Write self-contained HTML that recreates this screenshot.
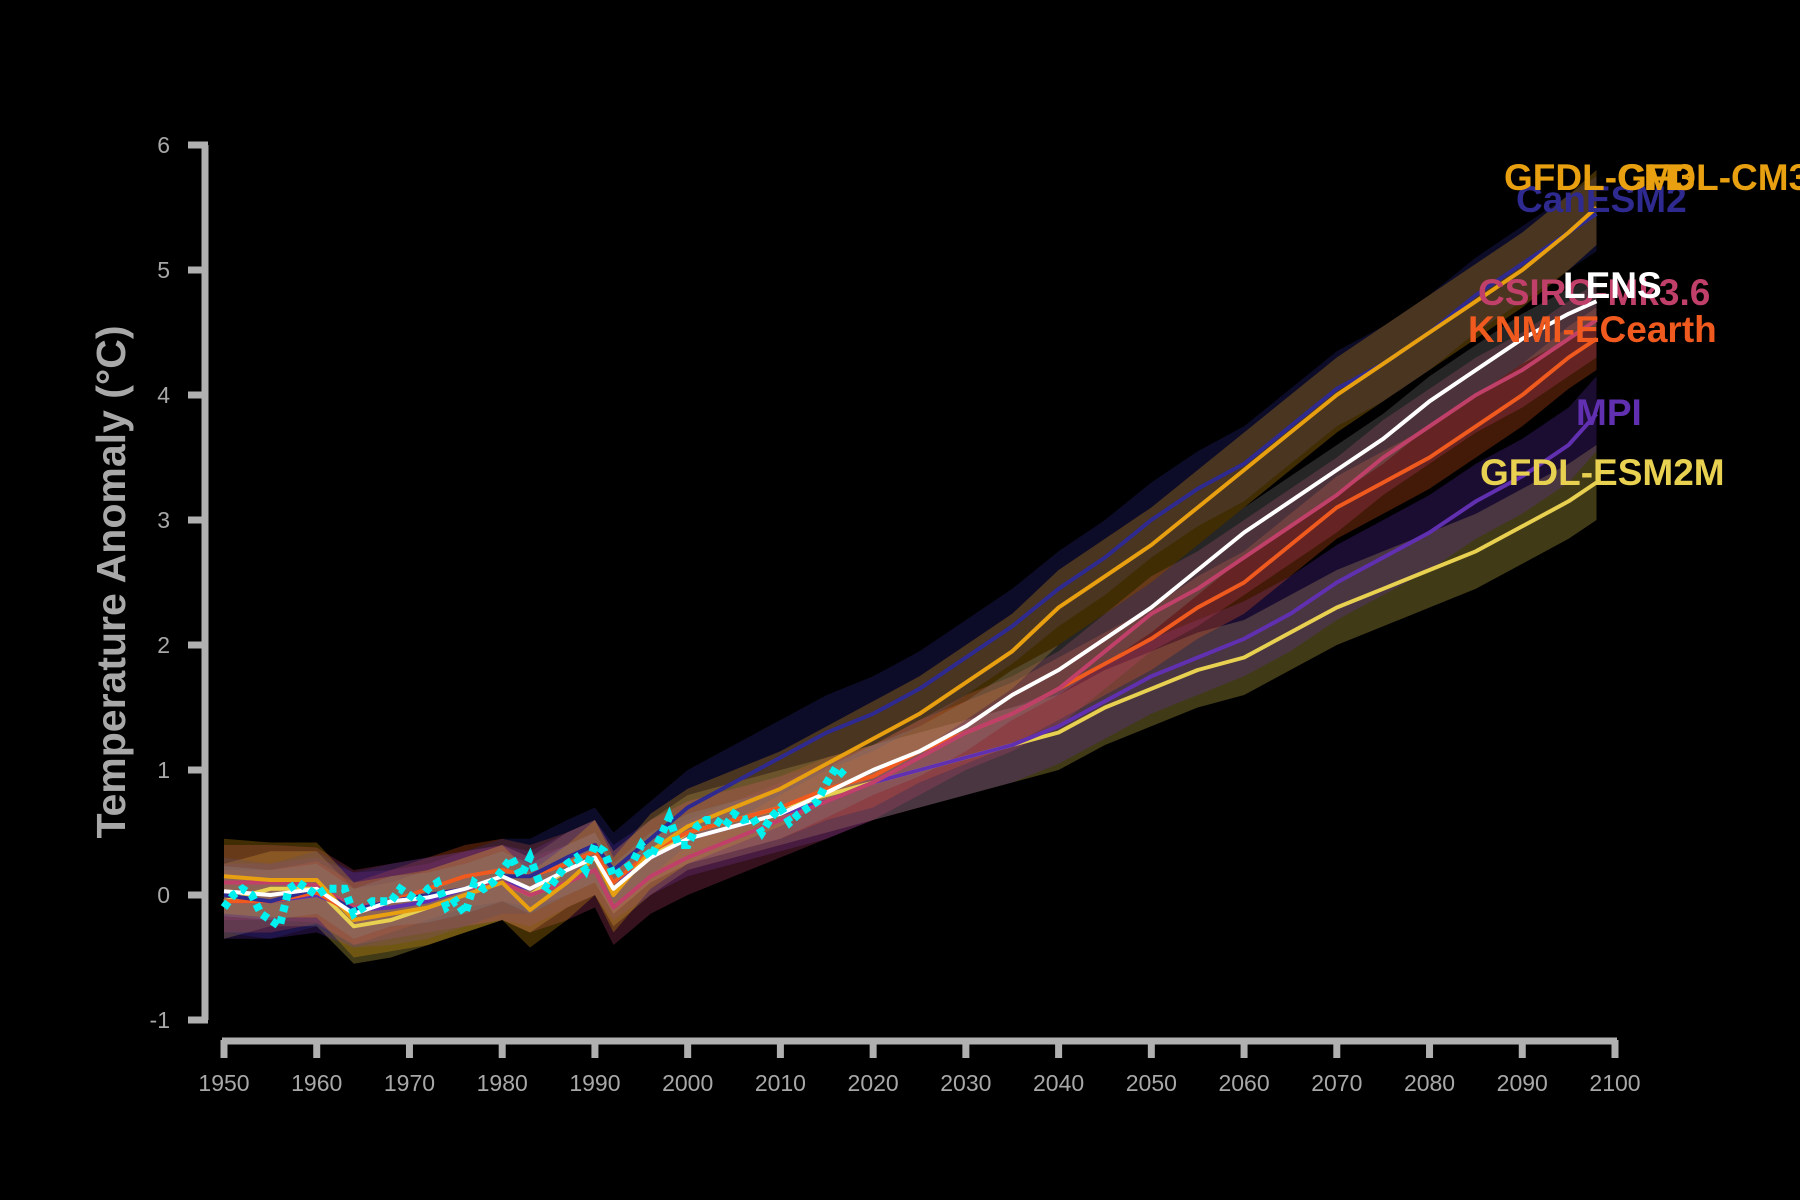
<!DOCTYPE html>
<html><head><meta charset="utf-8"><style>
html,body{margin:0;padding:0;background:#000;}
svg{display:block;font-family:"Liberation Sans",sans-serif;}
</style></head><body>
<svg id="chart" width="1800" height="1200" viewBox="0 0 1800 1200">
<rect width="1800" height="1200" fill="#000"/>
<g id="bands"></g>
<g id="lines"></g>
<g id="axes"></g>
<g id="labels"></g>
<text x="0" y="0" transform="translate(125,582) rotate(-90)" text-anchor="middle" font-size="41" font-weight="bold" fill="#a8a8a8">Temperature Anomaly (°C)</text>
</svg>
<script>
const years = [1950,1955,1960,1964,1968,1972,1976,1980,1983,1987,1990,1992,1996,2000,2005,2010,2015,2020,2025,2030,2035,2040,2045,2050,2055,2060,2065,2070,2075,2080,2085,2090,2095,2098];
const canesm2 = [0.0,-0.05,0.05,-0.12,-0.05,0.0,0.05,0.15,0.15,0.3,0.4,0.2,0.45,0.7,0.9,1.1,1.3,1.45,1.65,1.9,2.15,2.45,2.7,3.0,3.25,3.45,3.75,4.05,4.25,4.5,4.8,5.05,5.3,5.45];
const gfdlcm3 = [0.15,0.12,0.12,-0.2,-0.15,-0.1,0.0,0.1,-0.12,0.1,0.3,0.0,0.35,0.55,0.7,0.85,1.05,1.25,1.45,1.7,1.95,2.3,2.55,2.8,3.1,3.4,3.7,4.0,4.25,4.5,4.75,5.0,5.3,5.5];
const mpi = [-0.05,-0.05,0.0,-0.12,-0.1,-0.05,0.05,0.1,0.05,0.2,0.3,0.1,0.3,0.45,0.55,0.65,0.75,0.9,1.0,1.1,1.2,1.35,1.55,1.75,1.9,2.05,2.25,2.5,2.7,2.9,3.15,3.35,3.6,3.85];
const gfdlesm2m = [-0.05,0.05,0.05,-0.25,-0.2,-0.1,0.0,0.1,0.0,0.2,0.3,0.05,0.3,0.5,0.6,0.7,0.8,0.9,1.0,1.1,1.2,1.3,1.5,1.65,1.8,1.9,2.1,2.3,2.45,2.6,2.75,2.95,3.15,3.3];
const knmi = [-0.05,-0.05,0.02,-0.15,-0.05,0.05,0.15,0.2,0.15,0.25,0.35,0.1,0.35,0.5,0.6,0.7,0.85,0.95,1.15,1.3,1.45,1.65,1.85,2.05,2.3,2.5,2.8,3.1,3.3,3.5,3.75,4.0,4.3,4.45];
const csiro = [0.1,0.1,0.08,-0.1,-0.05,0.0,0.05,0.1,0.0,0.1,0.2,-0.1,0.15,0.3,0.45,0.6,0.75,0.9,1.1,1.3,1.45,1.65,1.95,2.25,2.45,2.7,2.95,3.2,3.5,3.75,4.0,4.2,4.45,4.6];
const lens = [0.03,0.0,0.05,-0.15,-0.05,-0.02,0.05,0.15,0.05,0.2,0.3,0.05,0.3,0.45,0.55,0.65,0.82,1.0,1.15,1.35,1.6,1.8,2.05,2.3,2.6,2.9,3.15,3.4,3.65,3.95,4.2,4.45,4.65,4.75];
const spreads = [0.3,0.3,0.25,0.3,0.3,0.3,0.2];
const obsYears = [1950,1951,1952,1953,1954,1955,1956,1957,1958,1959,1960,1961,1962,1963,1964,1965,1966,1967,1968,1969,1970,1971,1972,1973,1974,1975,1976,1977,1978,1979,1980,1981,1982,1983,1984,1985,1986,1987,1988,1989,1990,1991,1992,1993,1994,1995,1996,1997,1998,1999,2000,2001,2002,2003,2004,2005,2006,2007,2008,2009,2010,2011,2012,2013,2014,2015,2016,2017];
const obsValues = [-0.1,0.0,0.05,0.0,-0.15,-0.2,-0.25,0.05,0.1,0.05,0.0,0.05,0.05,0.05,-0.15,-0.1,-0.05,-0.05,-0.05,0.05,0.0,-0.05,0.05,0.1,-0.1,-0.05,-0.15,0.1,0.05,0.1,0.2,0.3,0.15,0.3,0.1,0.05,0.15,0.25,0.3,0.2,0.4,0.35,0.15,0.2,0.25,0.4,0.3,0.45,0.62,0.4,0.4,0.55,0.6,0.6,0.55,0.65,0.6,0.62,0.5,0.62,0.7,0.58,0.65,0.7,0.75,0.9,1.02,0.95];
const yTicks = [-1,0,1,2,3,4,5,6];
const xTicks = [1950,1960,1970,1980,1990,2000,2010,2020,2030,2040,2050,2060,2070,2080,2090,2100];

const NS="http://www.w3.org/2000/svg";
const X = y => 224 + (y-1950)*(1615-224)/150;
const Y = v => 895 - v*125;
function mk(tag, attrs, parent){const e=document.createElementNS(NS,tag);for(const k in attrs)e.setAttribute(k,attrs[k]);parent.appendChild(e);return e;}

const series = [
 {vals:gfdlesm2m,color:"#e8d050",label:"GFDL-ESM2M",lx:1480,ly:485},
 {vals:mpi,color:"#6030b0",label:"MPI",lx:1576,ly:425},
 {vals:knmi,color:"#f05a1e",label:"KNMI-ECearth",lx:1468,ly:342},
 {vals:csiro,color:"#c0406a",label:"CSIRO-Mk3.6",lx:1478,ly:305},
 {vals:canesm2,color:"#2e2a8f",label:"CanESM2",lx:1516,ly:212},
 {vals:gfdlcm3,color:"#e8a010",label:"GFDL-CM3",lx:1504,ly:190},
 {vals:lens,color:"#ffffff",label:"LENS",lx:1563,ly:298}
];
const bands=document.getElementById('bands'), lines=document.getElementById('lines'), labels=document.getElementById('labels');
series.forEach((s,i)=>{
  const sp = spreads[i];
  let d = years.map((y,j)=>(j?'L':'M')+X(y).toFixed(1)+','+Y(s.vals[j]+sp).toFixed(1)).join('');
  for(let j=years.length-1;j>=0;j--) d+='L'+X(years[j]).toFixed(1)+','+Y(s.vals[j]-sp).toFixed(1);
  const b = mk('path',{d:d+'Z',fill:s.color==="#ffffff"?"#888":s.color,'fill-opacity':0.28},bands);
  
  
});
series.forEach(s=>{
  const d = years.map((y,j)=>(j?'L':'M')+X(y).toFixed(1)+','+Y(s.vals[j]).toFixed(1)).join('');
  const l = mk('path',{d:d,fill:'none',stroke:s.color,'stroke-width':4,'stroke-linejoin':'round'},lines);
  
  
});
const od = obsYears.map((y,j)=>(j?'L':'M')+X(y).toFixed(1)+','+Y(obsValues[j]).toFixed(1)).join('');
const ol = mk('path',{d:od,fill:'none',stroke:'#00f0f0','stroke-width':8,'stroke-dasharray':'7,5'},lines);



series.forEach(s=>{
  const t = mk('text',{x:s.lx,y:s.ly,fill:s.color,'font-size':37,'font-weight':'bold'},labels);
  t.textContent = s.label;
  
  
});
const t2 = mk('text',{x:1618,y:190,fill:"#e8a010",'font-size':37,'font-weight':'bold'},labels);
t2.textContent = "GFDL-CM3";



const axes=document.getElementById('axes');
const ya = mk('path',{d:`M${207-2},${Y(6)}V${Y(-1)}`,stroke:'#b0b0b0','stroke-width':7,fill:'none'},axes);


yTicks.forEach(v=>{
  const tk = mk('line',{x1:188,x2:208,y1:Y(v),y2:Y(v),stroke:'#b0b0b0','stroke-width':7},axes);
  
  
  const tl = mk('text',{x:170,y:Y(v)+8,'text-anchor':'end','font-size':23,fill:'#a8a8a8'},axes);
  tl.textContent = v;
  
  
});
const xa = mk('path',{d:`M${X(1950)-2},1041H${X(2100)+2}`,stroke:'#b0b0b0','stroke-width':7,fill:'none'},axes);


xTicks.forEach(v=>{
  const tk = mk('line',{x1:X(v),x2:X(v),y1:1040,y2:1058,stroke:'#b0b0b0','stroke-width':7},axes);
  
  
  const tl = mk('text',{x:X(v),y:1091,'text-anchor':'middle','font-size':23,fill:'#a8a8a8'},axes);
  tl.textContent = v;
  
  
});
</script>
</body></html>
